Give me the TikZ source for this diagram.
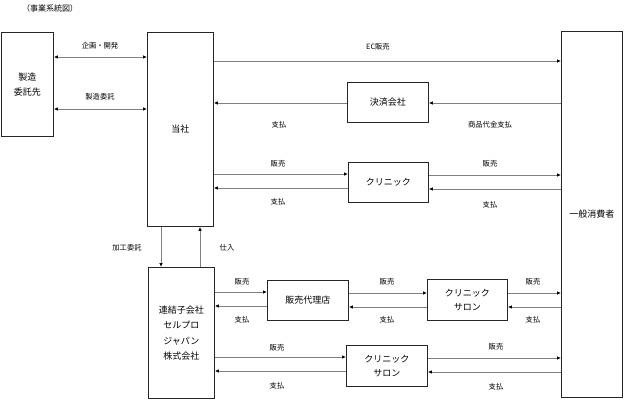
\documentclass[tikz,border=0pt]{standalone}
\usepackage{fontspec}
\setmainfont{Noto Sans CJK JP}
\usetikzlibrary{arrows.meta}
\begin{document}
\begin{tikzpicture}[x=1pt,y=-1pt,
  box/.style={draw=black!85,line width=0.8pt,anchor=north west,inner sep=0pt,align=center,font=\fontsize{9}{15.5}\selectfont},
  arr/.style={draw=black!50,line width=0.8pt,-{Latex[length=4pt,width=3.5pt,black]}},
  darr/.style={draw=black!50,line width=0.8pt,{Latex[length=4pt,width=3.5pt,black]}-{Latex[length=4pt,width=3.5pt,black]}},
  lbl/.style={font=\fontsize{7.3}{8}\selectfont,inner sep=0pt}]
\useasboundingbox (0,0) rectangle (624,401);
\node[font=\fontsize{8}{10}\selectfont,inner sep=0pt] (title) at (50,8) {（事業系統図）};
% boxes
\node[box,minimum width=52pt,minimum height=104pt] (mfg) at (1,32) {製造\\委託先};
\node[box,minimum width=66pt,minimum height=194pt] (toho) at (147,32) {当社};
\node[box,minimum width=61pt,minimum height=366pt] (cons) at (561,31) {一般消費者};
\node[box,minimum width=81pt,minimum height=40pt] (pay) at (347,82) {決済会社};
\node[box,minimum width=80pt,minimum height=40pt] (clinic) at (348,162) {クリニック};
\node[box,minimum width=66pt,minimum height=131pt,font=\fontsize{9}{15.5}\selectfont] (sub) at (148,267) {連結子会社\\セルプロ\\ジャパン\\株式会社};
\node[box,minimum width=81pt,minimum height=40pt] (agent) at (267,280) {販売代理店};
\node[box,minimum width=80pt,minimum height=41pt,font=\fontsize{9}{14.5}\selectfont] (salonA) at (427,279) {クリニック\\サロン};
\node[box,minimum width=81pt,minimum height=41pt,font=\fontsize{9}{14.5}\selectfont] (salonB) at (346,345) {クリニック\\サロン};
% mfg <-> toho
\draw[darr] (mfg.east |- 0,57) -- (toho.west |- 0,57);
\node[lbl] (l1) at (100,46) {企画・開発};
\draw[darr] (mfg.east |- 0,109) -- (toho.west |- 0,109);
\node[lbl] (l2) at (100,97) {製造委託};
% EC
\draw[arr] (toho.east |- 0,61) -- (cons.west |- 0,61);
\node[lbl] (l3) at (378,47) {EC販売};
% payment company
\draw[arr] (cons.west |- 0,103) -- (pay.east |- 0,103);
\draw[arr] (pay.west |- 0,103) -- (toho.east |- 0,103);
\node[lbl] (l4) at (279,125) {支払};
\node[lbl] (l5) at (490,125) {商品代金支払};
% clinic
\draw[arr] (toho.east |- 0,174) -- (clinic.west |- 0,174);
\draw[arr] (clinic.east |- 0,175) -- (cons.west |- 0,175);
\draw[arr] (cons.west |- 0,189) -- (clinic.east |- 0,189);
\draw[arr] (clinic.west |- 0,188) -- (toho.east |- 0,188);
\node[lbl] (l6) at (278,164) {販売};
\node[lbl] (l7) at (490,164) {販売};
\node[lbl] (l8) at (278,202) {支払};
\node[lbl] (l9) at (490,205) {支払};
% toho <-> sub
\draw[arr] (toho.south -| 161,0) -- (sub.north -| 161,0);
\draw[arr] (sub.north -| 200,0) -- (toho.south -| 200,0);
\node[lbl] (l10) at (127,248) {加工委託};
\node[lbl] (l11) at (227,248) {仕入};
% sub <-> agent
\draw[arr] (sub.east |- 0,292) -- (agent.west |- 0,292);
\draw[arr] (agent.west |- 0,306) -- (sub.east |- 0,306);
\node[lbl] (l12) at (242,282) {販売};
\node[lbl] (l13) at (242,320) {支払};
% agent <-> salonA
\draw[arr] (agent.east |- 0,293) -- (salonA.west |- 0,293);
\draw[arr] (salonA.west |- 0,307) -- (agent.east |- 0,307);
\node[lbl] (l14) at (387,282) {販売};
\node[lbl] (l15) at (387,320) {支払};
% salonA <-> cons
\draw[arr] (salonA.east |- 0,293) -- (cons.west |- 0,293);
\draw[arr] (cons.west |- 0,307) -- (salonA.east |- 0,307);
\node[lbl] (l16) at (533,282) {販売};
\node[lbl] (l17) at (533,320) {支払};
% sub <-> salonB
\draw[arr] (sub.east |- 0,357) -- (salonB.west |- 0,357);
\draw[arr] (salonB.west |- 0,371) -- (sub.east |- 0,371);
\node[lbl] (l18) at (277,348) {販売};
\node[lbl] (l19) at (277,386) {支払};
% salonB <-> cons
\draw[arr] (salonB.east |- 0,358) -- (cons.west |- 0,358);
\draw[arr] (cons.west |- 0,372) -- (salonB.east |- 0,372);
\node[lbl] (l20) at (496,347) {販売};
\node[lbl] (l21) at (496,387) {支払};
\end{tikzpicture}
\end{document}
